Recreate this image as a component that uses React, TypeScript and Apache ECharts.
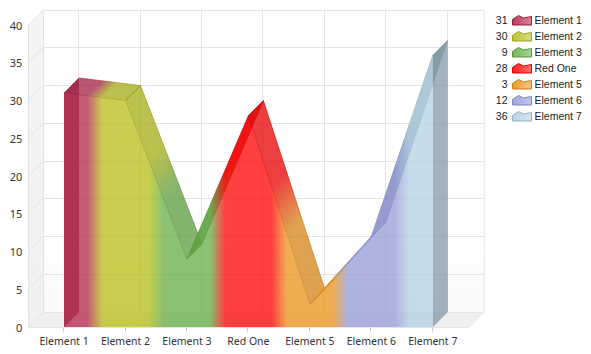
import React, { useEffect, useRef } from "react";
import * as echarts from "echarts";

const categories = ["Element 1", "Element 2", "Element 3", "Red One", "Element 5", "Element 6", "Element 7"];
const values = [31, 30, 9, 28, 3, 12, 36];
const yTicks = [0, 5, 10, 15, 20, 25, 30, 35, 40];
const yMax = 40;

const palette: number[][] = [
  [180, 36, 71],
  [183, 190, 21],
  [101, 173, 68],
  [255, 0, 0],
  [237, 147, 24],
  [149, 155, 216],
  [177, 208, 227],
];

const DEPTH = 15;
const PAD = 36;
const BLEND_PX = 7.5;
const AXIS_FONT = "Noto Sans";
const LEGEND_FONT = "Liberation Sans";

echarts.graphic.registerShape(
  "legendArea",
  echarts.graphic.extendPath("M0 9.5 L0 4 L6 0 L11 2.5 L19 1 L19 9.5 Z", {})
);

const rgba = (c: number[], f: number, a: number) =>
  `rgba(${Math.round(c[0] * f)},${Math.round(c[1] * f)},${Math.round(c[2] * f)},${a})`;

function segmentGradient(
  p0: number[],
  p1: number[],
  c0: number[],
  c1: number[],
  f: number,
  a: number
) {
  const dx = p1[0] - p0[0];
  const dy = p1[1] - p0[1];
  let k = (dx + dy) / 2;
  if (Math.abs(k) < 0.5) k = 0.5;
  const d = BLEND_PX / dx;
  return new echarts.graphic.LinearGradient(
    p0[0],
    p0[1],
    p0[0] + k,
    p0[1] + k,
    [
      { offset: 0, color: rgba(c0, f, a) },
      { offset: 0.5 - d, color: rgba(c0, f, a) },
      { offset: 0.5 + d, color: rgba(c1, f, a) },
      { offset: 1, color: rgba(c1, f, a) },
    ],
    true
  );
}

function renderFrame(_p: any, api: any) {
  const children: any[] = [];
  const xL = api.coord([0, 0])[0] - PAD;
  const xR = api.coord([categories.length - 1, 0])[0] + PAD;
  const y0 = api.coord([0, 0])[1];
  const yT = api.coord([0, yMax])[1];
  const D = DEPTH;
  children.push({
    type: "polygon",
    shape: { points: [[xL + D, yT - D], [xR + D, yT - D], [xR + D, y0 - D], [xL + D, y0 - D]] },
    style: {
      fill: new echarts.graphic.LinearGradient(0, 0, 0, 1, [
        { offset: 0, color: "#ffffff" },
        { offset: 0.75, color: "#ffffff" },
        { offset: 1, color: "#f9f9f9" },
      ]),
    },
  });
  children.push({
    type: "polygon",
    shape: { points: [[xL, y0], [xL + D, y0 - D], [xL + D, yT - D], [xL, yT]] },
    style: {
      fill: new echarts.graphic.LinearGradient(0, 0, 0, 1, [
        { offset: 0, color: "#f5f5f5" },
        { offset: 1, color: "#f0f0f0" },
      ]),
    },
  });
  children.push({
    type: "polygon",
    shape: { points: [[xL, y0], [xR, y0], [xR + D, y0 - D], [xL + D, y0 - D]] },
    style: { fill: "#efefef" },
  });
  const grid = "#e4e4e4";
  const line = (x1: number, y1: number, x2: number, y2: number) =>
    children.push({
      type: "line",
      shape: { x1, y1, x2, y2 },
      style: { stroke: grid, lineWidth: 1 },
    });
  yTicks.forEach((t) => {
    const y = Math.floor(api.coord([0, t])[1]) + 0.5;
    line(xL, y, xL + D, y - D);
    line(xL + D, y - D, xR + D, y - D);
  });
  categories.forEach((_c, i) => {
    const x = Math.floor(api.coord([i, 0])[0] - 0.4) + 0.5;
    const yb = Math.floor(y0) + 0.5;
    line(x + D, yb - D, x + D, yT - D);
    line(x, yb, x + D, yb - D);
    children.push({
      type: "line",
      shape: { x1: x, y1: yb, x2: x, y2: yb + 4 },
      style: { stroke: "#c8c8c8", lineWidth: 1 },
    });
  });
  line(xL + 0.5, y0, xL + 0.5, yT);
  line(xL + D + 0.5, y0 - D, xL + D + 0.5, yT - D);
  line(xR + D + 0.5, y0 - D, xR + D + 0.5, yT - D);
  line(xL, Math.floor(y0) + 0.5, xR, Math.floor(y0) + 0.5);
  line(xR, Math.floor(y0) + 0.5, xR + D, Math.floor(y0) - D + 0.5);
  return { type: "group", children };
}

function renderArea(_p: any, api: any) {
  const children: any[] = [];
  const D = DEPTH;
  const pts = values.map((v, i) => api.coord([i, v]));
  const base = values.map((_v, i) => api.coord([i, 0]));
  const n = values.length;
  const back = (p: number[]) => [p[0] + D, p[1] - D];

  const cap = (i: number, zc: number[]) => ({
    type: "polygon",
    shape: { points: [base[i], back(base[i]), back(pts[i]), pts[i]] },
    style: { fill: rgba(zc, 0.7, 0.7) },
  });
  children.push(cap(0, palette[0]));
  children.push(cap(n - 1, palette[n - 1]));

  for (let i = 0; i < n - 1; i++) {
    const up = pts[i + 1][1] < pts[i][1] - 1;
    const f = up && i !== 0 ? 0.7 : 0.9;
    const a = up && i !== 0 ? 0.7 : 0.75;
    children.push({
      type: "polygon",
      shape: { points: [pts[i], pts[i + 1], back(pts[i + 1]), back(pts[i])] },
      style: {
        fill: segmentGradient(pts[i], pts[i + 1], palette[i], palette[i + 1], f, a),
        stroke: segmentGradient(pts[i], pts[i + 1], palette[i], palette[i + 1], 0.75, 0.55),
        lineWidth: 1,
      },
    });
  }

  const x0 = pts[0][0];
  const xN = pts[n - 1][0];
  const span = xN - x0;
  const stops: any[] = [{ offset: 0, color: rgba(palette[0], 1, 0.75) }];
  for (let i = 0; i < n - 1; i++) {
    const mid = ((pts[i][0] + pts[i + 1][0]) / 2 - x0) / span;
    const d = BLEND_PX / span;
    stops.push({ offset: mid - d, color: rgba(palette[i], 1, 0.75) });
    stops.push({ offset: mid + d, color: rgba(palette[i + 1], 1, 0.75) });
  }
  stops.push({ offset: 1, color: rgba(palette[n - 1], 1, 0.75) });
  children.push({
    type: "polygon",
    shape: { points: [...pts, base[n - 1], base[0]] },
    style: {
      fill: new echarts.graphic.LinearGradient(x0, 0, xN, 0, stops, true),
    },
  });
  return { type: "group", children };
}

function legendGraphics() {
  const out: any[] = [];
  categories.forEach((name, i) => {
    const y = 20 + i * 16;
    out.push({
      type: "text",
      x: 507.5,
      y,
      style: {
        text: String(values[i]),
        font: `10.5px "${LEGEND_FONT}"`,
        fill: "#222",
        align: "right",
        verticalAlign: "middle",
      },
    });
    out.push({
      type: "legendArea",
      x: 512.5,
      y: y - 4.5,
      style: {
        fill: new echarts.graphic.LinearGradient(0, 0, 1, 0, [
          { offset: 0, color: rgba(palette[i], 1, 0.9) },
          { offset: 1, color: rgba(palette[i], 1, 0.55) },
        ]),
        stroke: rgba(palette[i], 0.85, 1),
        lineWidth: 1,
      },
    });
    out.push({
      type: "text",
      x: 534.5,
      y,
      style: {
        text: name,
        font: `10.5px "${LEGEND_FONT}"`,
        fill: "#222",
        align: "left",
        verticalAlign: "middle",
      },
    });
  });
  return out;
}

export default function App() {
  const ref = useRef<HTMLDivElement>(null);
  useEffect(() => {
    document.body.style.margin = "0";
    const chart = echarts.init(ref.current!, null, { renderer: "svg" });
    chart.setOption({
      animation: false,
      backgroundColor: "#ffffff",
      grid: { left: 33.3, width: 430.2, top: 25, height: 302, containLabel: false },
      xAxis: {
        type: "category",
        data: categories,
        boundaryGap: true,
        axisLine: { show: false },
        axisTick: { show: false },
        splitLine: { show: false },
        axisLabel: {
          interval: 0,
          margin: 8,
          color: "#333",
          fontFamily: AXIS_FONT,
          fontSize: 10.5,
        },
      },
      yAxis: {
        type: "value",
        min: 0,
        max: yMax,
        interval: 5,
        axisLine: { show: false },
        axisTick: { show: false },
        splitLine: { show: false },
        axisLabel: {
          margin: 11,
          color: "#333",
          fontFamily: AXIS_FONT,
          fontSize: 11,
          padding: [2, 0, 0, 0],
        },
      },
      series: [
        {
          type: "custom",
          name: "frame",
          silent: true,
          clip: false,
          z: 1,
          coordinateSystem: "cartesian2d",
          data: [[0, 0]],
          renderItem: renderFrame,
        },
        {
          type: "custom",
          name: "area",
          silent: true,
          clip: false,
          z: 2,
          coordinateSystem: "cartesian2d",
          data: [[0, 0]],
          renderItem: renderArea,
        },
      ],
      graphic: legendGraphics(),
    });
    return () => chart.dispose();
  }, []);
  return (
    <div
      ref={ref}
      style={{ position: "absolute", left: 0, top: 0, width: 591, height: 354 }}
    />
  );
}
